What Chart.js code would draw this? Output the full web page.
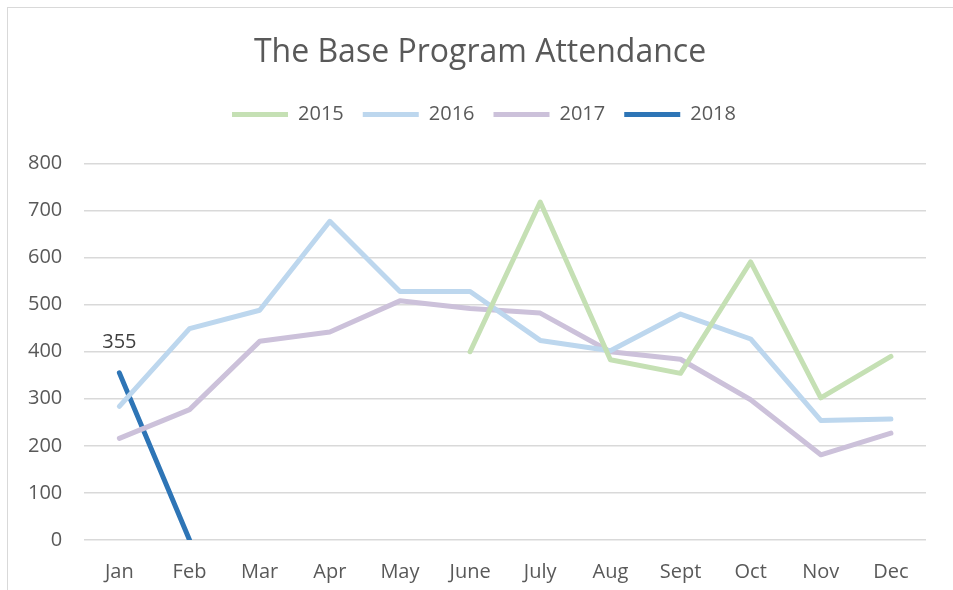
<!DOCTYPE html>
<html>
<head>
<meta charset="utf-8">
<script src="https://cdn.jsdelivr.net/npm/chart.js@4/dist/chart.umd.min.js"></script>
<style>
  body { margin: 0; background: #fff; }
  #wrap { position: absolute; left: 0; top: 0; width: 953px; height: 590px; }
  #frame { position: absolute; left: 7px; top: 7px; width: 960px; height: 600px;
           border: 1px solid #d9d9d9; pointer-events: none; }
</style>
</head>
<body>
<div id="wrap"><canvas id="lineChart"></canvas></div>
<div id="frame"></div>
<script>
// data
const months = ['Jan', 'Feb', 'Mar', 'Apr', 'May', 'June', 'July', 'Aug', 'Sept', 'Oct', 'Nov', 'Dec'];
const att2015 = [null, null, null, null, null, 400, 718, 383, 354, 591, 302, 390];
const att2016 = [284, 449, 488, 677, 528, 528, 424, 402, 480, 427, 254, 257];
const att2017 = [216, 277, 422, 442, 508, 492, 482, 400, 384, 298, 181, 227];
const att2018 = [355, 0];
const yTicks = [0, 100, 200, 300, 400, 500, 600, 700, 800];

const grey = '#595959';
const font = 'Open Sans';

// label over the first 2018 point
const pointLabel = {
  id: 'pointLabel',
  afterDatasetsDraw(chart) {
    const pt = chart.getDatasetMeta(3).data[0];
    const c = chart.ctx;
    c.save();
    c.font = '20px "' + font + '"';
    c.fillStyle = '#404040';
    c.textAlign = 'center';
    c.textBaseline = 'middle';
    c.fillText(String(att2018[0]), pt.x, pt.y - 31);
    c.restore();
  }
};

// more room under the legend, and title/legend a bit to the right
const legendGap = {
  id: 'legendGap',
  beforeInit(chart) {
    const fit = chart.legend.fit;
    chart.legend.fit = function () {
      fit.bind(chart.legend)();
      this.height += 29;
    };
  },
  afterLayout(chart) {
    chart.titleBlock.left += 14;
    chart.titleBlock.right += 14;
    chart.legend.left += 18;
    chart.legend.right += 18;
  }
};

const ctx = document.getElementById('lineChart').getContext('2d');

function line(label, data, color) {
  return {
    label: label,
    data: data,
    borderColor: color,
    backgroundColor: color,
    borderWidth: 5,
    borderCapStyle: 'round',
    borderJoinStyle: 'round',
    pointRadius: 0,
    pointStyle: 'line',
    tension: 0,
    fill: false,
    spanGaps: false
  };
}

new Chart(ctx, {
  type: 'line',
  data: {
    labels: months,
    datasets: [
      line('2015', att2015, '#c5e0b4'),
      line('2016', att2016, '#bdd7ee'),
      line('2017', att2017, '#ccc1da'),
      line('2018', att2018, '#2e75b6')
    ]
  },
  plugins: [pointLabel, legendGap],
  options: {
    responsive: true,
    maintainAspectRatio: false,
    animation: false,
    layout: { padding: { left: 6, right: 27, top: 0, bottom: -6 } },
    plugins: {
      title: {
        display: true,
        text: 'The Base Program Attendance',
        color: grey,
        font: { family: font, size: 32, weight: 'normal' },
        padding: { top: 34, bottom: 13 }
      },
      legend: {
        display: true,
        labels: {
          color: grey,
          font: { family: font, size: 20 },
          usePointStyle: true,
          pointStyleWidth: 56,
          boxWidth: 56,
          boxHeight: 5,
          padding: 19
        }
      },
      tooltip: { enabled: false }
    },
    scales: {
      x: {
        offset: true,
        grid: { display: false },
        border: { display: false },
        ticks: { color: grey, font: { family: font, size: 20 }, padding: 12 }
      },
      y: {
        min: 0,
        max: 800,
        afterBuildTicks(axis) { axis.ticks = yTicks.map(v => ({ value: v })); },
        grid: { color: '#d9d9d9', lineWidth: 1.5, drawTicks: false },
        border: { display: false },
        ticks: { color: grey, font: { family: font, size: 20 }, padding: 22 }
      }
    }
  }
});
</script>
</body>
</html>
